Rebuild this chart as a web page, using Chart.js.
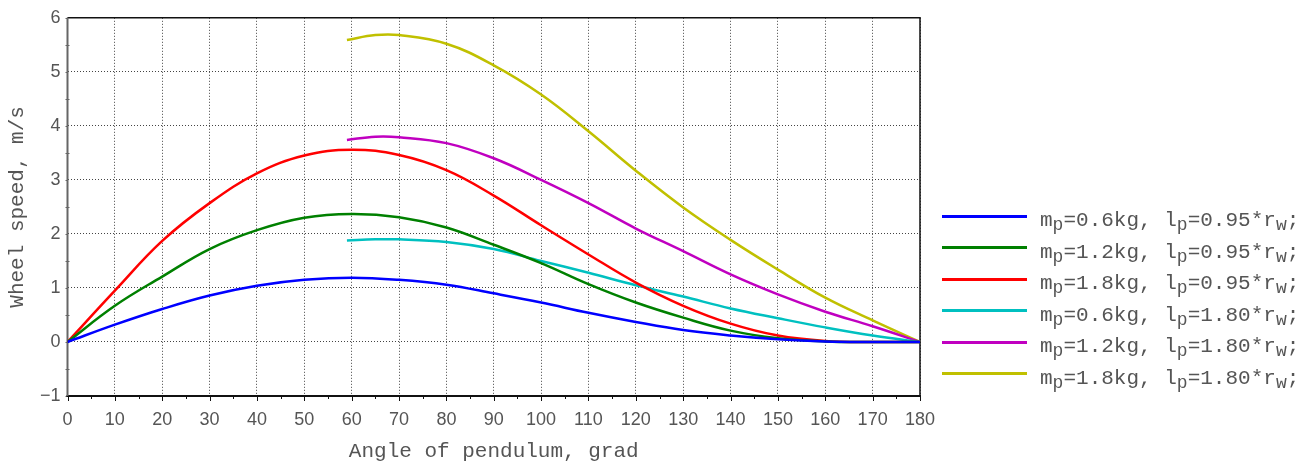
<!DOCTYPE html>
<html>
<head>
<meta charset="utf-8">
<script src="https://cdn.jsdelivr.net/npm/chart.js@4.4.1/dist/chart.umd.min.js"></script>
<style>
  body { margin: 0; background: #fff; }
  #wrap { position: relative; width: 1309px; height: 466px; }
  #legend { position: absolute; left: 0; top: 0; }
  .row { position: absolute; left: 942px; width: 367px; height: 30px; }
  .swatch { position: absolute; left: 0; width: 85px; height: 3px; }
  .lbl { position: absolute; left: 98px; white-space: pre; font: 21px "Liberation Mono", monospace; color: #555; line-height: 20px; }
  .lbl sub { font-size: 18px; vertical-align: baseline; position: relative; top: 4px; }
</style>
</head>
<body>
<div id="wrap">
  <canvas id="myChart" width="1309" height="466"></canvas>
  <div id="legend"></div>
</div>
<script>
// angles (grad) and wheel speeds (m/s)
const angleShort = [0, 10, 20, 30, 40, 50, 60, 70, 80, 90, 100, 110, 120, 130, 140, 150, 160, 170, 180];
const angleLong = [59, 65, 70, 80, 90, 100, 110, 120, 130, 140, 150, 160, 170, 180];

const speedM06L095 = [0, 0.32, 0.61, 0.86, 1.04, 1.15, 1.19, 1.15, 1.06, 0.90, 0.73, 0.54, 0.37, 0.22, 0.12, 0.05, 0.01, 0, 0];
const speedM12L095 = [0, 0.67, 1.21, 1.72, 2.07, 2.30, 2.37, 2.31, 2.12, 1.80, 1.46, 1.07, 0.73, 0.45, 0.21, 0.07, 0.01, 0, 0];
const speedM18L095 = [0, 0.95, 1.87, 2.57, 3.12, 3.45, 3.56, 3.46, 3.18, 2.71, 2.16, 1.62, 1.10, 0.67, 0.34, 0.12, 0.02, 0, 0];
const speedM06L180 = [1.88, 1.90, 1.90, 1.85, 1.72, 1.50, 1.28, 1.05, 0.84, 0.62, 0.44, 0.27, 0.12, 0];
const speedM12L180 = [3.74, 3.80, 3.79, 3.68, 3.40, 3.00, 2.57, 2.10, 1.68, 1.25, 0.88, 0.56, 0.29, 0];
const speedM18L180 = [5.59, 5.68, 5.68, 5.52, 5.12, 4.58, 3.90, 3.17, 2.49, 1.89, 1.34, 0.82, 0.40, 0];

const xTicks = [0, 180, 10];
const yTicks = [-1, 6, 1];

const series = [
  { m: '0.6', l: '0.95', x: angleShort, y: speedM06L095, color: '#0000ff' },
  { m: '1.2', l: '0.95', x: angleShort, y: speedM12L095, color: '#008000' },
  { m: '1.8', l: '0.95', x: angleShort, y: speedM18L095, color: '#ff0000' },
  { m: '0.6', l: '1.80', x: angleLong, y: speedM06L180, color: '#00c0c0' },
  { m: '1.2', l: '1.80', x: angleLong, y: speedM12L180, color: '#c000c0' },
  { m: '1.8', l: '1.80', x: angleLong, y: speedM18L180, color: '#c0c000' },
];

const tickFont = { family: '"Liberation Sans", Arial, sans-serif', size: 18 };
const titleFont = { family: '"Liberation Mono", monospace', size: 21 };

// frame, minor ticks
const framePlugin = {
  id: 'frame',
  beforeDatasetsDraw(chart) {
    const { ctx, chartArea: a, scales } = chart;
    const xs = scales.x, ys = scales.y;
    ctx.save();
    // bottom ticks
    ctx.strokeStyle = '#111';
    ctx.lineWidth = 1;
    for (let v = xTicks[0]; v <= xTicks[1]; v += 5) {
      const px = Math.round(xs.getPixelForValue(v)) + 0.5;
      ctx.beginPath();
      ctx.moveTo(px, a.bottom);
      ctx.lineTo(px, a.bottom + (v % 10 === 0 ? 5 : 3));
      ctx.stroke();
    }
    // left minor ticks
    ctx.strokeStyle = '#666';
    for (let v = yTicks[0]; v <= yTicks[1]; v += 0.5) {
      const py = Math.round(ys.getPixelForValue(v)) + 0.5;
      ctx.beginPath();
      ctx.moveTo(a.left - 2, py);
      ctx.lineTo(a.left + (v % 1 === 0 ? 0 : 2), py);
      ctx.stroke();
    }
    // box
    ctx.strokeStyle = '#111';
    ctx.lineWidth = 1.5;
    ctx.beginPath();
    ctx.moveTo(a.left, a.top);
    ctx.lineTo(a.right, a.top);
    ctx.lineTo(a.right, a.bottom);
    ctx.stroke();
    ctx.lineWidth = 2;
    ctx.beginPath();
    ctx.moveTo(a.left - 1, a.bottom);
    ctx.lineTo(a.right + 1, a.bottom);
    ctx.stroke();
    ctx.strokeStyle = '#666';
    ctx.beginPath();
    ctx.moveTo(a.left, a.top);
    ctx.lineTo(a.left, a.bottom);
    ctx.stroke();
    ctx.restore();
  }
};

const ctx = document.getElementById('myChart').getContext('2d');
new Chart(ctx, {
  type: 'line',
  data: {
    datasets: series.map(s => ({
      label: 'mp=' + s.m + 'kg, lp=' + s.l + '*rw;',
      data: s.x.map((x, i) => ({ x: x, y: s.y[i] })),
      borderColor: s.color,
      backgroundColor: s.color,
      borderWidth: 2.5,
      pointRadius: 0,
      tension: 0.4,
      fill: false
    }))
  },
  options: {
    responsive: false,
    animation: false,
    devicePixelRatio: 1,
    layout: { padding: { top: 12, right: 389, left: 0, bottom: 0 } },
    plugins: { legend: { display: false }, tooltip: { enabled: false } },
    scales: {
      x: {
        type: 'linear',
        min: xTicks[0], max: xTicks[1],
        ticks: { stepSize: xTicks[2], font: tickFont, color: '#555', padding: 13, maxRotation: 0 },
        grid: { color: '#444', lineWidth: 1, drawTicks: false },
        border: { display: false, dash: [1, 2] },
        title: { display: true, text: 'Angle of pendulum, grad', font: titleFont, color: '#555', padding: { top: 0, bottom: 2 } },
        afterFit(scale) { scale.height = 70; }
      },
      y: {
        min: yTicks[0], max: yTicks[1],
        ticks: {
          stepSize: yTicks[2], font: tickFont, color: '#555', padding: 7,
          callback: v => (v < 0 ? '\u2212' + Math.abs(v) : String(v))
        },
        grid: { color: '#444', lineWidth: 1, drawTicks: false },
        border: { display: false, dash: [1, 2] },
        title: { display: true, text: 'Wheel speed, m/s', font: titleFont, color: '#555', padding: { top: 5, bottom: 0 } },
        afterFit(scale) { scale.width = 67.5; }
      }
    }
  },
  plugins: [framePlugin]
});

// legend with subscripts
const legend = document.getElementById('legend');
series.forEach((s, i) => {
  const cy = 216 + i * 31.5;
  const row = document.createElement('div');
  row.className = 'row';
  row.style.top = (cy - 15) + 'px';
  row.innerHTML =
    '<div class="swatch" style="top:13.5px;background:' + s.color + '"></div>' +
    '<div class="lbl" style="top:10px">m<sub>p</sub>=' + s.m + 'kg, l<sub>p</sub>=' + s.l + '*r<sub>w</sub>;</div>';
  legend.appendChild(row);
});
</script>
</body>
</html>
